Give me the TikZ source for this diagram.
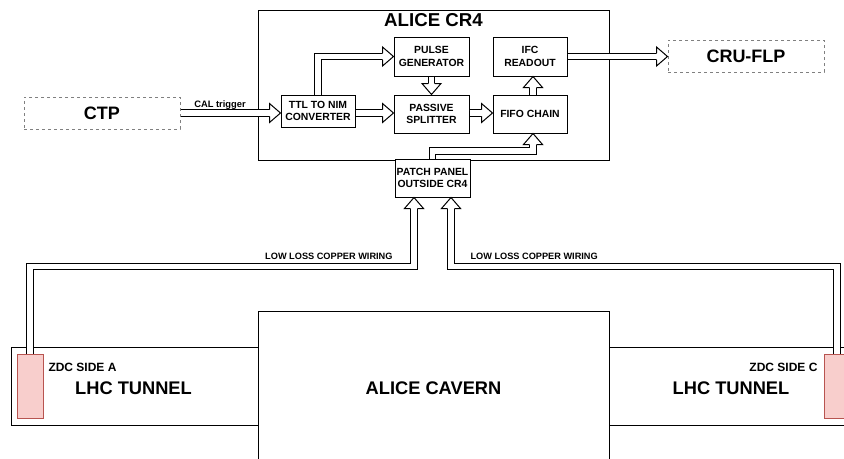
\documentclass[tikz,border=0pt]{standalone}
\usepackage{fontspec}
\setmainfont{Liberation Sans}
\usetikzlibrary{calc}
\definecolor{zdcfill}{HTML}{F8CECC}
\definecolor{zdcline}{HTML}{B85450}
\definecolor{dashgray}{HTML}{808080}
\begin{document}
\begin{tikzpicture}[x=0.75pt,y=-0.75pt,line width=0.75pt,
  blk/.style={draw,fill=white,inner sep=0pt,align=center,font=\fontsize{7.8}{9.6}\selectfont\bfseries,
              minimum width=75*0.75pt,minimum height=39*0.75pt},
  ext/.style={draw=dashgray,dash pattern=on 2.25pt off 2.25pt,inner sep=0pt,font=\fontsize{13.5}{16}\selectfont\bfseries,
              minimum width=156*0.75pt,minimum height=32*0.75pt},
  region/.style={draw,inner sep=0pt},
  zdc/.style={draw=zdcline,fill=zdcfill,inner sep=0pt,minimum width=26*0.75pt,minimum height=64*0.75pt},
  bigtxt/.style={font=\fontsize{13.7}{16}\selectfont\bfseries,inner sep=0pt},
  midtxt/.style={font=\fontsize{9}{11}\selectfont\bfseries,inner sep=0pt},
  smalltxt/.style={font=\fontsize{6.9}{8}\selectfont\bfseries,inner sep=0pt},
  shaft/.style={draw=black,double=white,double distance=4.3pt,line width=0.75pt,line join=miter},
  fhead/.pic={
    \fill[white] (-11,-3.3) -- (-11,-9.5) -- (0,0) -- (-11,9.5) -- (-11,3.3) -- cycle;
    \draw[line join=miter] (-11,-3.3) -- (-11,-9.5) -- (0,0) -- (-11,9.5) -- (-11,3.3);
  }]
\clip (0,0) rectangle (844,458);

% bottom regions
\node[region,minimum width=247*0.75pt,minimum height=78*0.75pt] (tunA) at (134.5,386) {};
\node[region,minimum width=351*0.75pt,minimum height=160*0.75pt] (cavern) at (433.5,391) {};
\node[region,minimum width=251*0.75pt,minimum height=78*0.75pt] (tunC) at (734.5,386) {};
\node[zdc] (zdcA) at (30,386) {};
\node[zdc] (zdcC) at (837,386) {};
\node[midtxt,anchor=west] (zdcAtxt) at (48,367) {ZDC SIDE A};
\node[midtxt,anchor=east] (zdcCtxt) at (818,367) {ZDC SIDE C};
\node[bigtxt] (tunAtxt) at (133.5,388) {LHC TUNNEL};
\node[bigtxt] (tunCtxt) at (731,388) {LHC TUNNEL};
\node[bigtxt] (cavtxt) at (433.5,388) {ALICE CAVERN};

% CR4 room
\node[region,minimum width=351*0.75pt,minimum height=150*0.75pt] (cr4) at (433.5,85) {};
\node[font=\fontsize{14}{16}\selectfont\bfseries,inner sep=0pt] (cr4txt) at (433.5,20.5) {ALICE CR4};

\node[blk,minimum height=32*0.75pt,minimum width=74*0.75pt] (ttl) at (318,111) {TTL TO NIM\\CONVERTER};
\node[blk] (pulse) at (431.5,56.5) {PULSE\\GENERATOR};
\node[blk,minimum height=38*0.75pt] (passive) at (431.5,114) {PASSIVE\\SPLITTER};
\node[blk,minimum width=74*0.75pt] (ifc) at (530,56.5) {IFC\\READOUT};
\node[blk,minimum width=74*0.75pt,minimum height=38*0.75pt] (fifo) at (530,114) {FIFO CHAIN};
\node[blk,minimum height=38*0.75pt] (patch) at (432.5,178) {PATCH PANEL\\OUTSIDE CR4};

\node[ext] (ctp) at (102,113) {CTP};
\node[ext] (cru) at (746,56) {CRU-FLP};

% arrows inside CR4
\draw[shaft] (ttl.north) |- ($(pulse.west)+(-11,0)$);
\pic at (pulse.west) {fhead};
\draw[shaft] (pulse.south) -- ($(passive.north)+(0,-11)$);
\pic[rotate=-90] at (passive.north) {fhead};
\draw[shaft] ($(ttl.east)+(0,2)$) -- ($(ttl.east -| passive.west)+(-11,2)$);
\pic at ($(ttl.east -| passive.west)+(0,2)$) {fhead};
\draw[shaft] ($(passive.east)+(0,-1)$) -- ($(fifo.west)+(-11,-1)$);
\pic at ($(fifo.west)+(0,-1)$) {fhead};
\draw[shaft] ($(fifo.north)+(3,0)$) -- ($(ifc.south)+(3,11)$);
\pic[rotate=90] at ($(ifc.south)+(3,0)$) {fhead};
\draw[shaft] (patch.north) -- ++(0,-7.5) -| ($(fifo.south)+(3,11)$);
\pic[rotate=90] at ($(fifo.south)+(3,0)$) {fhead};

% external arrows
\draw[shaft] (ctp.east) -- ($(ctp.east -| ttl.west)+(-11,0)$);
\pic at (ctp.east -| ttl.west) {fhead};
\node[smalltxt,font=\fontsize{7}{8}\selectfont\bfseries] (caltxt) at (220,105) {CAL trigger};
\draw[shaft] (ifc.east) -- ($(ifc.east -| cru.west)+(-11,0)$);
\pic at (ifc.east -| cru.west) {fhead};

% copper wiring
\draw[shaft] (zdcA.north) |- ($(patch.south)+(-18.5,69)$) -- ($(patch.south)+(-18.5,11)$);
\pic[rotate=90] at ($(patch.south)+(-18.5,0)$) {fhead};
\draw[shaft] (zdcC.north) |- ($(patch.south)+(18.5,69)$) -- ($(patch.south)+(18.5,11)$);
\pic[rotate=90] at ($(patch.south)+(18.5,0)$) {fhead};
\node[smalltxt,anchor=east] (wireA) at (393,256.5) {LOW LOSS COPPER WIRING};
\node[smalltxt,anchor=west] (wireC) at (470,256.5) {LOW LOSS COPPER WIRING};
\end{tikzpicture}
\end{document}
